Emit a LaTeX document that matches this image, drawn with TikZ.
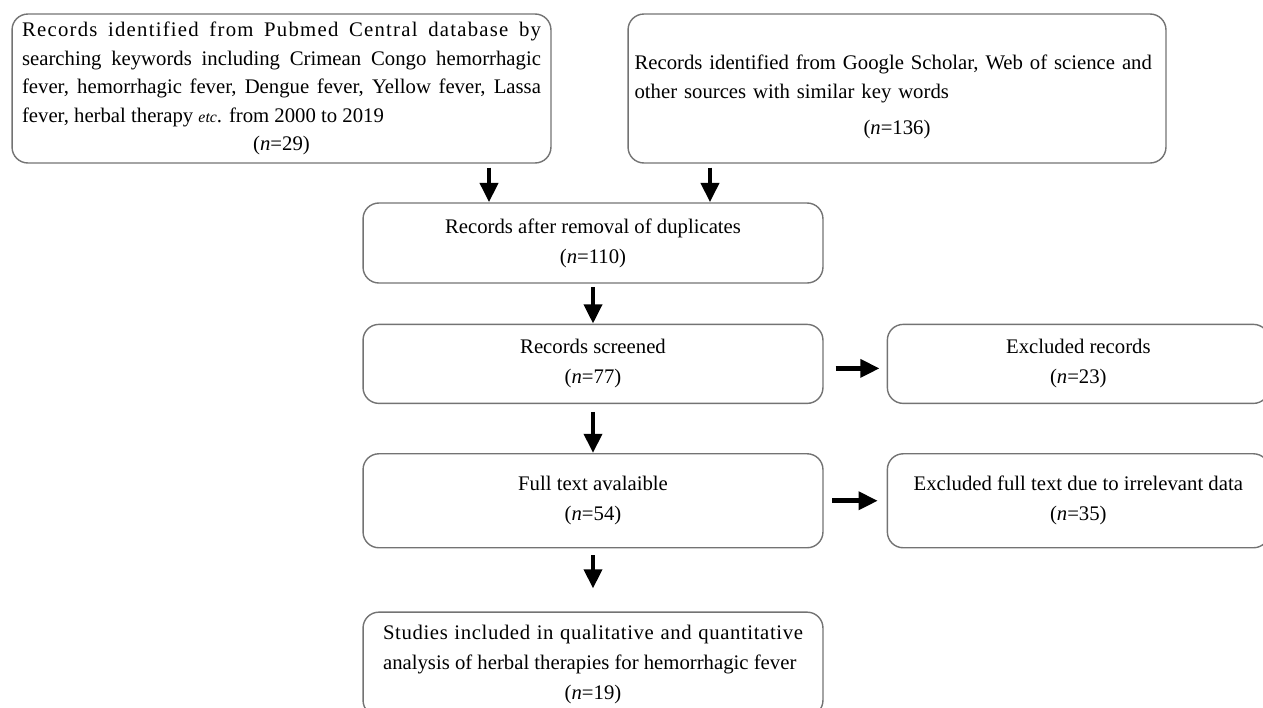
\documentclass[tikz,border=0pt]{standalone}
\usepackage{fontspec}
\setmainfont{Liberation Serif}
\usetikzlibrary{arrows.meta,positioning}
\tikzset{
    box/.style={draw=black!55, line width=0.8pt, rounded corners=9pt, inner sep=0pt, align=center, font=\fontsize{11.8}{17}\selectfont},
    flow/.style={-{Triangle[length=11pt, width=10pt]}, line width=2.8pt, black}
}
\hbadness=10000
\newcommand{\midline}[1]{\makebox[\linewidth]{#1}}

\begin{document}
\begin{tikzpicture}[x=0.02cm, y=-0.02cm]
    \useasboundingbox (0,0) rectangle (1263,707);
    \clip (0,0) rectangle (1263,707);
    % sources
    \node[box, minimum width=10.78cm, minimum height=2.98cm, text width=10.38cm, align=justify, font=\fontsize{11.8}{16.2}\selectfont] (pubmed) at (281.5,88.5) {{\addfontfeature{LetterSpace=6}Records identified from Pubmed Central database by}\linebreak searching keywords including Crimean Congo hemorrhagic\linebreak fever, hemorrhagic fever, Dengue fever, Yellow fever, Lassa\linebreak fever, herbal therapy {\small\textit{etc}}. from 2000 to 2019\par\midline{(\textit{n}=29)}};
    \node[box, minimum width=10.76cm, minimum height=2.98cm, text width=10.5cm, align=left, font=\fontsize{11.8}{16.5}\selectfont] (scholar) at (897,88.5) {\rule{0pt}{18pt}Records identified from Google Scholar, Web of science and\\ other sources with similar key words\\[4pt] \midline{(\textit{n}=136)}};
    % main flow
    \node[box, minimum width=9.2cm, minimum height=1.6cm] (dupl) at (593,243) {Records after removal of duplicates\\ (\textit{n}=110)};
    \node[box, minimum width=9.2cm, minimum height=1.58cm, below=0.8cm of dupl] (screen) {Records screened\\ (\textit{n}=77)};
    \node[box, minimum width=9.2cm, minimum height=1.88cm, below=0.98cm of screen] (full) {Full text avalaible\\ (\textit{n}=54)};
    \node[box, minimum width=9.2cm, minimum height=2.08cm, below=1.26cm of full, text width=8.4cm, align=justify] (incl) {{\addfontfeature{LetterSpace=3}Studies included in qualitative and quantitative}\linebreak analysis of herbal therapies for hemorrhagic fever\par\midline{(\textit{n}=19)}};
    % exclusions
    \node[box, minimum width=7.64cm, minimum height=1.58cm, right=1.26cm of screen] (excl) {Excluded records\\ (\textit{n}=23)};
    \node[box, minimum width=7.64cm, minimum height=1.88cm, right=1.26cm of full] (irrel) {Excluded full text due to irrelevant data\\ (\textit{n}=35)};
    \coordinate (inL) at ([xshift=-2.08cm]dupl.north);
    \coordinate (inR) at ([xshift=2.34cm]dupl.north);
    \draw[flow, shorten <=2.3pt] (pubmed.south -| inL) -- (inL);
    \draw[flow, shorten <=2.3pt] (scholar.south -| inR) -- (inR);
    \draw[flow, shorten <=2pt] (dupl) -- (screen);
    \draw[flow, shorten <=4.5pt] (screen) -- (full);
    \draw[flow, shorten <=4pt, shorten >=13pt] (full) -- (incl);
    \draw[flow, shorten <=6.8pt, shorten >=4pt] ([yshift=-0.09cm]screen.east) -- ([yshift=-0.09cm]excl.west);
    \draw[flow, shorten <=5pt, shorten >=5pt] (full) -- (irrel);
\end{tikzpicture}
\end{document}
